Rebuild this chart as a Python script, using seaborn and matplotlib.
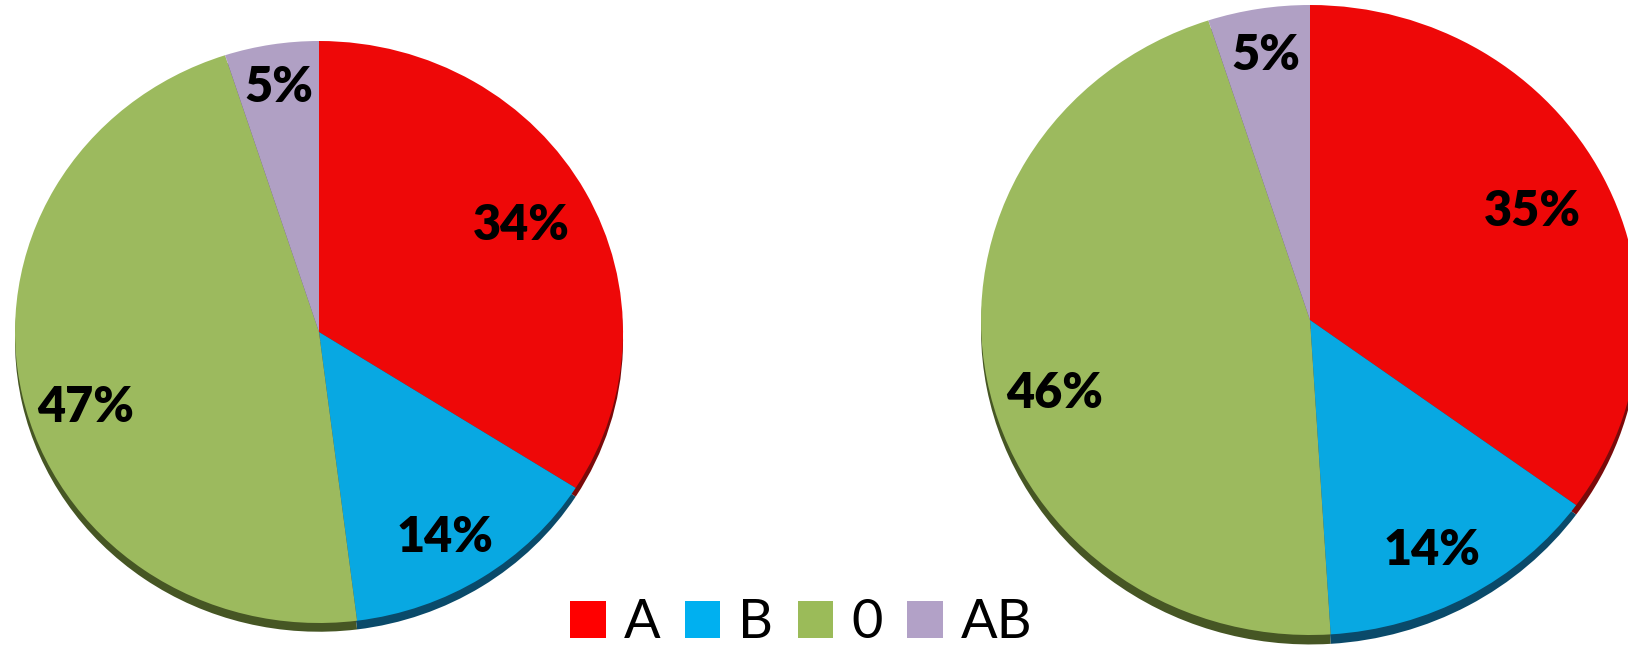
import numpy as np
import seaborn as sns
import matplotlib.pyplot as plt
from matplotlib.patches import Patch

# blood group distribution, two samples
groups = ["A", "B", "0", "AB"]
left_values = [34, 14, 47, 5]
right_values = [35, 14, 46, 5]

pie_colors = ["#EE0808", "#08A8E2", "#9CBA5E", "#B0A0C4"]
legend_colors = ["#FF0000", "#00B0F0", "#9BBB59", "#B2A1C7"]
shadow_colors = ["#7A0A0A", "#0A4A6A", "#465624", "#5A4E66"]

# label placement tweaks (radial distance, angle nudge in degrees)
label_dist = [0.76, 0.82, 0.81, 0.85]
label_nudge = [0, -2, 6, 0]

sns.set_theme(style="white")
plt.rcParams["font.family"] = ["Lato", "DejaVu Sans"]
plt.rcParams["text.color"] = "black"

W, H = 1628, 649
fig = plt.figure(figsize=(W / 100, H / 100), dpi=100)


def draw_pie(values, cx, cy, rx, ry):
    pad = 1.1
    ax = fig.add_axes([(cx - pad * rx) / W, 1 - (cy + pad * ry) / H,
                       2 * pad * rx / W, 2 * pad * ry / H])
    # dark rim underneath to fake the 3D edge
    ax.pie(values, colors=shadow_colors, startangle=90, counterclock=False,
           center=(0, -0.03), wedgeprops=dict(linewidth=0))
    wedges, _, pcts = ax.pie(values, colors=pie_colors, startangle=90, counterclock=False,
                             autopct=lambda p: f"{p:.0f}%", pctdistance=0.78,
                             wedgeprops=dict(linewidth=0),
                             textprops=dict(fontsize=35, fontweight="heavy", color="black"))
    for w, t, d, n in zip(wedges, pcts, label_dist, label_nudge):
        a = np.deg2rad((w.theta1 + w.theta2) / 2 + n)
        t.set_position((d * np.cos(a), d * np.sin(a)))
    ax.set_aspect("auto")
    ax.set_xlim(-pad, pad)
    ax.set_ylim(-pad, pad)
    ax.axis("off")
    return ax


draw_pie(left_values, 319, 332, 304, 291)
draw_pie(right_values, 1310, 320, 329, 315)

handles = [Patch(facecolor=c, edgecolor="none") for c in legend_colors]
fig.legend(handles, groups, loc="center", bbox_to_anchor=(801 / W, 1 - 623 / H),
           ncol=4, frameon=False, fontsize=39, handlelength=0.66, handleheight=0.66,
           handletextpad=0.33, columnspacing=0.45, borderpad=0)

plt.savefig("out.png", dpi=100)
